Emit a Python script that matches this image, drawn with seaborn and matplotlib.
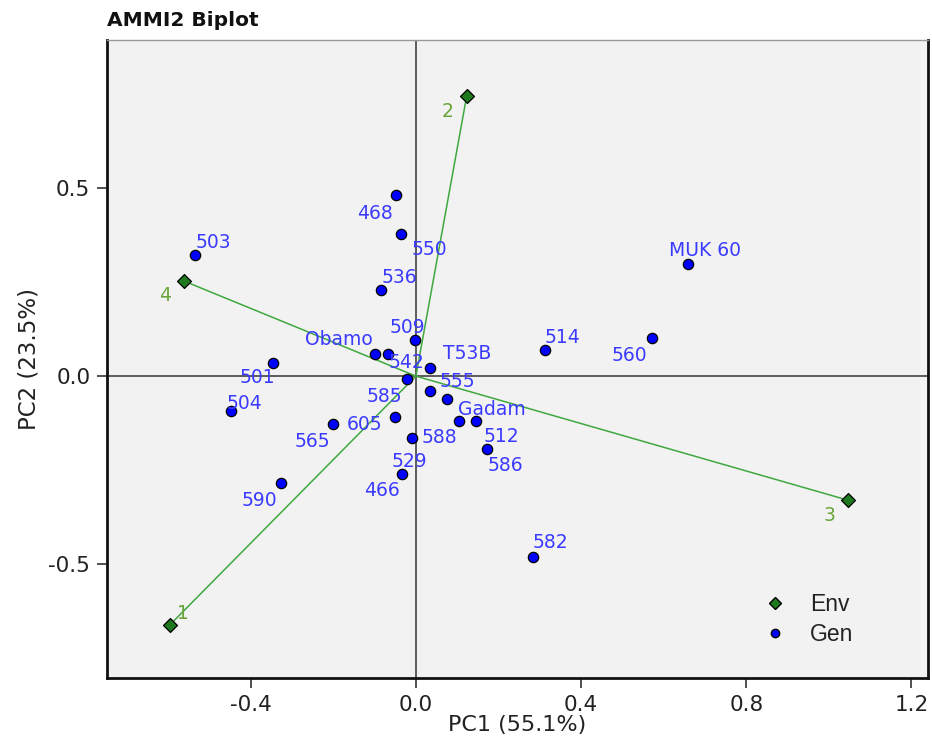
import matplotlib
matplotlib.use("Agg")
import matplotlib.pyplot as plt
from matplotlib.lines import Line2D
import seaborn as sns
import pandas as pd

# ---------------- data ----------------
env_names = ["1", "2", "3", "4"]
env_pc1 = [-0.596, 0.123, 1.046, -0.562]
env_pc2 = [-0.662, 0.745, -0.330, 0.253]

gen_names = ["468", "550", "503", "536", "MUK 60", "514", "560", "509", "501", "504",
             "590", "582", "Obamo", "542", "T53B", "585", "555", "529", "Gadam", "512",
             "605", "565", "588", "586", "466"]
gen_pc1 = [-0.048, -0.036, -0.535, -0.085, 0.659, 0.312, 0.571, -0.002, -0.346, -0.448,
           -0.327, 0.283, -0.099, -0.068, 0.034, -0.022, 0.034, 0.075, 0.104, 0.145,
           -0.051, -0.201, -0.010, 0.172, -0.034]
gen_pc2 = [0.481, 0.378, 0.322, 0.229, 0.298, 0.069, 0.101, 0.096, 0.035, -0.093,
           -0.285, -0.481, 0.059, 0.059, 0.021, -0.008, -0.040, -0.061, -0.120, -0.120,
           -0.109, -0.128, -0.165, -0.194, -0.261]

x_ticks = [-0.4, 0.0, 0.4, 0.8, 1.2]
y_ticks = [-0.5, 0.0, 0.5]

# label offsets (pixels: right, up)
gen_label_offsets = [(-21, -18), (28, -16), (18, 13), (19, 13), (17, 14), (18, 13), (-22, -17),
                     (-8, 13), (-16, -15), (14, 8), (-21, -17), (18, 14), (-36, 14), (19, -9),
                     (37, 15), (-22, -17), (27, 10), (-38, -62), (33, 12), (26, -15), (-30, -7),
                     (-21, -17), (28, 1), (18, -16), (-20, -16)]
env_label_offsets = [(13, 11), (-19, -15), (-18, -15), (-19, -15)]

env_df = pd.DataFrame({"PC1": env_pc1, "PC2": env_pc2, "name": env_names})
gen_df = pd.DataFrame({"PC1": gen_pc1, "PC2": gen_pc2, "name": gen_names})

# ---------------- style ----------------
sns.set_style("white")
plt.rcParams["font.family"] = ["DejaVu Sans"]

fig = plt.figure(figsize=(9.32, 7.39), dpi=100)
ax = fig.add_axes([107 / 932, 1 - 678 / 739, (928 - 107) / 932, (678 - 40) / 739])
ax.set_facecolor("#F2F2F2")

ax.set_xlim(-0.748, 1.240)
ax.set_ylim(-0.803, 0.894)

# reference lines
ax.axhline(0, color="#333333", lw=1.1, zorder=1)
ax.axvline(0, color="#333333", lw=1.1, zorder=1)

# env vectors
for x, y in zip(env_pc1, env_pc2):
    ax.plot([0, x], [0, y], color="#3FA83F", lw=1.1, zorder=2)

sns.scatterplot(data=gen_df, x="PC1", y="PC2", ax=ax, color="#0000FF", marker="o",
                s=55, edgecolor="black", linewidth=0.9, zorder=4, legend=False)
sns.scatterplot(data=env_df, x="PC1", y="PC2", ax=ax, color="#1F7A1F", marker="D",
                s=50, edgecolor="black", linewidth=0.9, zorder=4, legend=False)

for name, x, y, (dx, dy) in zip(gen_names, gen_pc1, gen_pc2, gen_label_offsets):
    ax.annotate(name, (x, y), xytext=(dx, dy), textcoords="offset pixels",
                ha="center", va="center", color="#3B3BFF", fontsize=13.5, zorder=5)
for name, x, y, (dx, dy) in zip(env_names, env_pc1, env_pc2, env_label_offsets):
    ax.annotate(name, (x, y), xytext=(dx, dy), textcoords="offset pixels",
                ha="center", va="center", color="#6AA53A", fontsize=13.5, zorder=5)

ax.set_xticks(x_ticks)
ax.set_xticklabels([f"{t:.1f}" for t in x_ticks])
ax.set_yticks(y_ticks)
ax.set_yticklabels([f"{t:.1f}" for t in y_ticks])
ax.tick_params(axis="both", direction="out", length=7, width=1.2, color="#333333",
               labelsize=15.5, pad=5, bottom=True, left=True, labelcolor="#222222")

ax.set_xlabel("PC1 (55.1%)", fontsize=16, color="#222222", labelpad=0)
ax.set_ylabel("PC2 (23.5%)", fontsize=16.5, color="#222222", labelpad=6)

for side in ["left", "bottom", "right"]:
    ax.spines[side].set_visible(True)
    ax.spines[side].set_color("#111111")
    ax.spines[side].set_linewidth(2.0)
ax.spines["top"].set_visible(True)
ax.spines["top"].set_color("#999999")
ax.spines["top"].set_linewidth(1.0)

fig.text(107 / 932, 1 - 20 / 739, "AMMI2 Biplot", fontsize=14.5, fontweight="bold",
         ha="left", va="center", color="#111111")

handles = [Line2D([0], [0], marker="D", color="none", markerfacecolor="#1F7A1F",
                  markeredgecolor="black", markersize=6, label="Env"),
           Line2D([0], [0], marker="o", color="none", markerfacecolor="#0000FF",
                  markeredgecolor="black", markersize=6, label="Gen")]
leg = ax.legend(handles=handles, loc="center left", bbox_to_anchor=(0.800, 0.0917),
                frameon=False, borderpad=0, borderaxespad=0, handlelength=1.0,
                handletextpad=1.0, labelspacing=0.3,
                prop={"family": "Liberation Sans", "size": 16.5})
for t in leg.get_texts():
    t.set_color("#222222")

fig.savefig("out.png", dpi=100)
